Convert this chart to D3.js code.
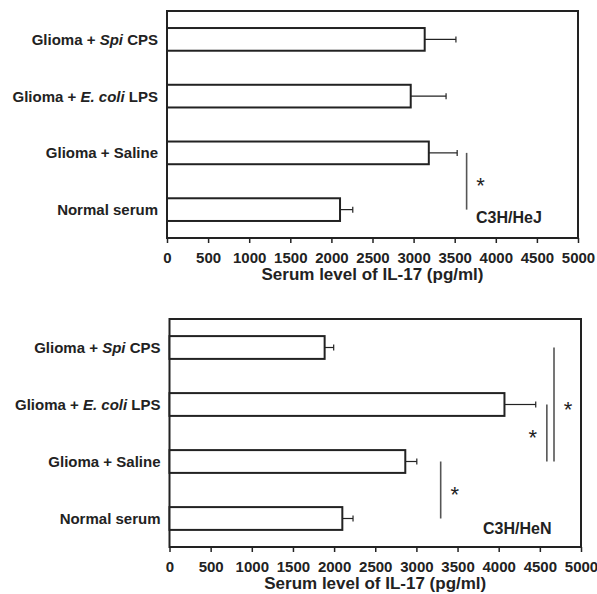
<!DOCTYPE html>
<html><head><meta charset="utf-8">
<script src="https://cdn.jsdelivr.net/npm/d3@7/dist/d3.min.js"></script>
<style>body{margin:0;background:#fff}svg{display:block}text{font-family:"Liberation Sans",Arial,sans-serif;fill:#222}</style>
</head><body>
<script>
// categories (top to bottom)
const categories = ["spi", "ecoli", "saline", "normal"];
const categoryParts = [
  [["Glioma + ", false], ["Spi", true], [" CPS", false]],
  [["Glioma + ", false], ["E. coli", true], [" LPS", false]],
  [["Glioma + Saline", false]],
  [["Normal serum", false]]
];
const tickValues = [0,500,1000,1500,2000,2500,3000,3500,4000,4500,5000];
const axisTitle = "Serum level of IL-17 (pg/ml)";

// C3H/HeJ panel
const hejMeans  = [3135, 2965, 3185, 2105];
const hejErrors = [380, 430, 345, 155];
const hejSig = [ {from:"saline", to:"normal", x:3645, side:1} ];

// C3H/HeN panel
const henMeans  = [1885, 4070, 2865, 2100];
const henErrors = [110, 380, 140, 130];
const henSig = [
  {from:"saline", to:"normal", x:3295, side:1},
  {from:"ecoli", to:"saline", x:4585, side:-1},
  {from:"spi", to:"saline", x:4672, side:1}
];

const W = 597, H = 594;
const svg = d3.select("body").append("svg").attr("width", W).attr("height", H);

function panel(cfg){
  const {left, right, top, bottom, means, errors, sig, strain, strainX, strainY} = cfg;
  const g = svg.append("g");
  const x = d3.scaleLinear().domain([0,5000]).range([left, right]);
  const y = d3.scaleBand().domain(categories).range([top, bottom]).paddingInner(0.6).paddingOuter(0.3);

  // frame
  g.append("rect").attr("x", left).attr("y", top).attr("width", right-left).attr("height", bottom-top)
    .attr("fill","none").attr("stroke","#222").attr("stroke-width",2);

  // axis
  const ax = g.append("g").attr("transform", `translate(0,${bottom})`)
    .call(d3.axisBottom(x).tickValues(tickValues).tickSize(5).tickPadding(9).tickFormat(d3.format("d")));
  ax.attr("font-size", null).attr("font-family", null);
  ax.select(".domain").remove();
  ax.selectAll(".tick line").attr("stroke","#222").attr("stroke-width",1.5);
  ax.selectAll(".tick text")
    .style("font-size","15px").style("font-weight","700").style("fill","#222")
    .style("font-family","'Liberation Sans', Arial, sans-serif");

  g.append("text").attr("x", (left+right)/2).attr("y", bottom+42).attr("text-anchor","middle")
    .style("font-size","17px").style("font-weight","700").text(axisTitle);

  // error bars
  categories.forEach((c,i)=>{
    const cy = y(c) + y.bandwidth()/2;
    g.append("line").attr("x1", x(means[i])).attr("x2", x(means[i]+errors[i]))
      .attr("y1", cy).attr("y2", cy).attr("stroke","#222").attr("stroke-width",1.2);
    g.append("line").attr("x1", x(means[i]+errors[i])).attr("x2", x(means[i]+errors[i]))
      .attr("y1", cy-3).attr("y2", cy+3).attr("stroke","#222").attr("stroke-width",1.2);
  });

  // bars
  g.selectAll(".bar").data(categories).enter().append("rect")
    .attr("x", x(0)).attr("y", c=>y(c))
    .attr("width", (c,i)=>x(means[i])-x(0)).attr("height", y.bandwidth())
    .attr("fill","#fff").attr("stroke","#222").attr("stroke-width",2);

  // category labels
  categories.forEach((c,i)=>{
    const t = g.append("text").attr("x", left-9).attr("y", y(c)+y.bandwidth()/2).attr("dy","0.36em")
      .attr("text-anchor","end").style("font-size","15px").style("font-weight","700");
    categoryParts[i].forEach(([s,it])=>{
      t.append("tspan").style("font-style", it?"italic":"normal").text(s);
    });
  });

  // significance
  sig.forEach(s=>{
    const y1 = y(s.from)+y.bandwidth()/2, y2 = y(s.to)+y.bandwidth()/2;
    g.append("line").attr("x1", x(s.x)).attr("x2", x(s.x)).attr("y1", y1).attr("y2", y2)
      .attr("stroke","#555").attr("stroke-width",1.6);
    g.append("text").attr("x", x(s.x) + s.side*14).attr("y", (y1+y2)/2 + 12)
      .attr("text-anchor","middle").style("font-size","22px").text("*");
  });

  g.append("text").attr("x", strainX).attr("y", strainY).style("font-size","16px").style("font-weight","700").text(strain);
}

panel({left:167, right:578, top:11, bottom:238, means:hejMeans, errors:hejErrors, sig:hejSig,
  strain:"C3H/HeJ", strainX:476, strainY:223});
panel({left:169.5, right:581, top:319, bottom:547, means:henMeans, errors:henErrors, sig:henSig,
  strain:"C3H/HeN", strainX:483, strainY:534});
</script>
</body></html>
